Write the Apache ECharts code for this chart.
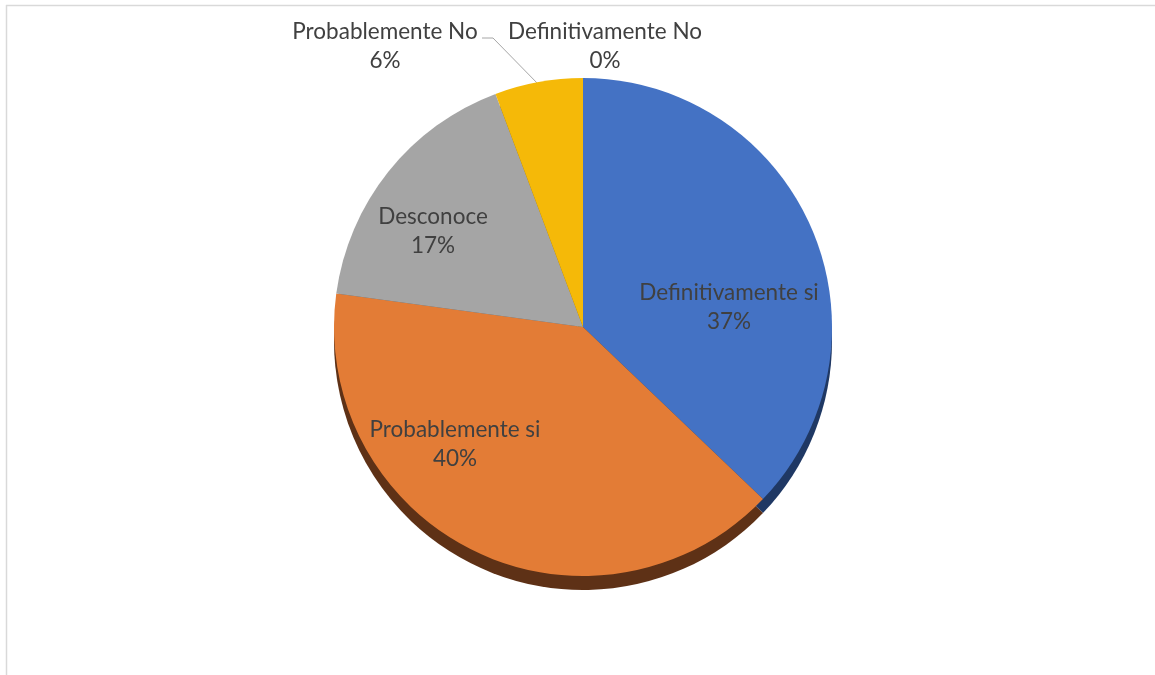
<!DOCTYPE html>
<html>
<head>
<meta charset="utf-8">
<title>Encuesta</title>
<script src="https://cdn.jsdelivr.net/npm/echarts@6/dist/echarts.min.js"></script>
<style>
  html, body { margin: 0; padding: 0; background: #ffffff; }
  #chart { width: 1155px; height: 675px; }
</style>
</head>
<body>
<div id="chart"></div>
<script>
// Response categories and counts
const categories = ['Definitivamente si', 'Probablemente si', 'Desconoce', 'Probablemente No', 'Definitivamente No'];
const counts = [13, 14, 6, 2, 0];

// Face colours and the darker shades used for the pie's edge
const faceColors = ['#4472C4', '#E37C36', '#A5A5A5', '#F5B908', '#5B9BD5'];
const edgeColors = ['#1F3864', '#5E3116', '#5F5F5F', '#8F6B00', '#2E5C8A'];

// Label anchor points (centre of each two-line label)
const labelPos = [
  { x: 729, y: 307 },
  { x: 455, y: 444 },
  { x: 433, y: 231 },
  { x: 385, y: 46 },
  { x: 605, y: 46 }
];
const leaderLine = [[482, 38], [493, 38], [540, 86]];

const center = [583, 327];
const radius = 249;
const depth = 14;

const chart = echarts.init(document.getElementById('chart'), null, { renderer: 'canvas' });

const faceData = categories.map((name, i) => {
  const outside = i >= 3;
  return {
    name: name,
    value: counts[i],
    itemStyle: { color: faceColors[i] },
    label: { position: outside ? 'outside' : 'inside' },
    labelLine: { show: i === 3, lineStyle: { color: '#a6a6a6', width: 1 } }
  };
});

const edgeData = categories.map((name, i) => ({
  name: name,
  value: counts[i],
  itemStyle: { color: edgeColors[i] }
}));

chart.setOption({
  backgroundColor: '#ffffff',
  animation: false,
  graphic: [
    { type: 'line', shape: { x1: 6, y1: 5.5, x2: 1155, y2: 5.5 }, style: { stroke: '#d9d9d9', lineWidth: 1.5 } },
    { type: 'line', shape: { x1: 6.5, y1: 5, x2: 6.5, y2: 675 }, style: { stroke: '#d9d9d9', lineWidth: 1.5 } }
  ],
  series: [
    {
      // lower copy of the pie forming the visible thickness
      type: 'pie',
      silent: true,
      z: 1,
      center: [center[0], center[1] + depth],
      radius: radius,
      startAngle: 90,
      clockwise: true,
      label: { show: false },
      labelLine: { show: false },
      data: edgeData
    },
    {
      type: 'pie',
      z: 2,
      center: center,
      radius: radius,
      startAngle: 90,
      clockwise: true,
      avoidLabelOverlap: false,
      itemStyle: { borderWidth: 0 },
      label: {
        show: true,
        fontFamily: 'Lato',
        fontSize: 22.5,
        lineHeight: 29,
        color: '#404040',
        align: 'center',
        formatter: p => p.name + '\n' + Math.round(p.percent) + '%'
      },
      labelLayout: function (p) {
        const pos = labelPos[p.dataIndex];
        const out = { x: pos.x, y: pos.y, align: 'center', verticalAlign: 'middle' };
        if (p.dataIndex === 3) out.labelLinePoints = leaderLine;
        return out;
      },
      data: faceData
    }
  ]
});
</script>
</body>
</html>
